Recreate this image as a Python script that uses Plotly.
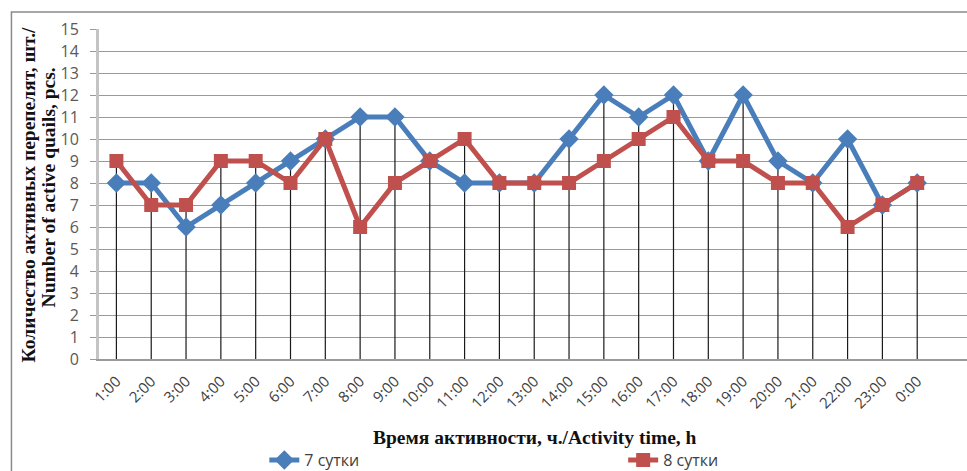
import plotly.graph_objects as go

# Hourly activity counts for two observation days
hours = ["1:00", "2:00", "3:00", "4:00", "5:00", "6:00", "7:00", "8:00", "9:00", "10:00",
         "11:00", "12:00", "13:00", "14:00", "15:00", "16:00", "17:00", "18:00", "19:00",
         "20:00", "21:00", "22:00", "23:00", "0:00"]
day7 = [8, 8, 6, 7, 8, 9, 10, 11, 11, 9, 8, 8, 8, 10, 12, 11, 12, 9, 12, 9, 8, 10, 7, 8]
day8 = [9, 7, 7, 9, 9, 8, 10, 6, 8, 9, 10, 8, 8, 8, 9, 10, 11, 9, 9, 8, 8, 6, 7, 8]
y_ticks = list(range(0, 16))

name7 = "7 сутки"
name8 = "8 сутки"
y_title_lines = ["Количество активных перепелят, шт./", "Number of active quails, pcs."]
x_title = "Время активности, ч./Activity time, h"

BLUE = "#4A7EBB"
RED = "#C0504D"

xpos = list(range(len(hours)))

# Drop lines from the higher of the two series down to the axis
drop_x, drop_y = [], []
for i, (a, b) in enumerate(zip(day7, day8)):
    drop_x += [i, i, None]
    drop_y += [0, max(a, b), None]

fig = go.Figure()
fig.add_trace(go.Scatter(
    x=drop_x, y=drop_y, mode="lines",
    line=dict(color="#1a1a1a", width=1.2),
    showlegend=False, hoverinfo="skip",
))
fig.add_trace(go.Scatter(
    x=xpos, y=day7, name=name7, mode="lines+markers",
    line=dict(color=BLUE, width=5),
    marker=dict(symbol="diamond", size=15, color=BLUE),
    legend="legend",
))
fig.add_trace(go.Scatter(
    x=xpos, y=day8, name=name8, mode="lines+markers",
    line=dict(color=RED, width=5),
    marker=dict(symbol="square", size=14, color=RED),
    legend="legend2",
))

W, H = 967, 471
ML, MT, MB = 98.6, 29, 112
PW = W - ML
PH = H - MT - MB


def px_x(x):
    return (x - ML) / PW


def px_y(y):
    return (H - MB - y) / PH


title_font = dict(family="Liberation Serif", size=19.5, color="#111111")
legend_style = dict(
    orientation="h", yanchor="middle", xanchor="left",
    font=dict(family="Open Sans", size=16, color="#404040"),
    bgcolor="rgba(0,0,0,0)", itemclick=False, borderwidth=0,
)

fig.update_layout(
    width=W, height=H,
    margin=dict(l=ML, r=0, t=MT, b=MB, autoexpand=False),
    paper_bgcolor="white", plot_bgcolor="white",
    showlegend=True,
    legend=dict(x=px_x(264), y=px_y(460), **legend_style),
    legend2=dict(x=px_x(623), y=px_y(460), **legend_style),
    xaxis=dict(
        range=[-0.5, 24.43],
        tickmode="array", tickvals=xpos, ticktext=hours,
        tickangle=-45,
        tickfont=dict(family="Open Sans", size=15, color="#404040"),
        ticklabelstandoff=6,
        showgrid=False, zeroline=False,
        showline=True, linecolor="#9a9a9a", linewidth=1.5,
        ticks="", fixedrange=True, automargin=False,
    ),
    yaxis=dict(
        range=[0, 15],
        tickmode="array", tickvals=y_ticks,
        tickfont=dict(family="Open Sans", size=16, color="#595959"),
        ticklabelstandoff=8,
        showgrid=True, gridcolor="#9a9a9a", gridwidth=1.4,
        zeroline=False,
        showline=True, linecolor="#c4c4c4", linewidth=3,
        ticks="outside", ticklen=6, tickcolor="#9a9a9a", tickwidth=1.4,
        fixedrange=True, automargin=False,
    ),
    shapes=[dict(
        type="rect", xref="paper", yref="paper",
        x0=px_x(11), x1=px_x(980), y0=px_y(490), y1=px_y(12),
        line=dict(color="#8a8a8a", width=1.5), layer="below",
    )],
    annotations=[
        dict(
            text="<b>" + y_title_lines[0] + "</b>", textangle=-90, showarrow=False,
            xref="paper", yref="paper", x=px_x(28), y=px_y(195),
            xanchor="center", yanchor="middle", font=title_font,
        ),
        dict(
            text="<b>" + y_title_lines[1] + "</b>", textangle=-90, showarrow=False,
            xref="paper", yref="paper", x=px_x(48), y=px_y(187),
            xanchor="center", yanchor="middle", font=title_font,
        ),
        dict(
            text="<b>" + x_title + "</b>", showarrow=False,
            xref="paper", yref="paper", x=px_x(535), y=px_y(437),
            xanchor="center", yanchor="middle", font=title_font,
        ),
    ],
)

fig.write_html("out.html")
